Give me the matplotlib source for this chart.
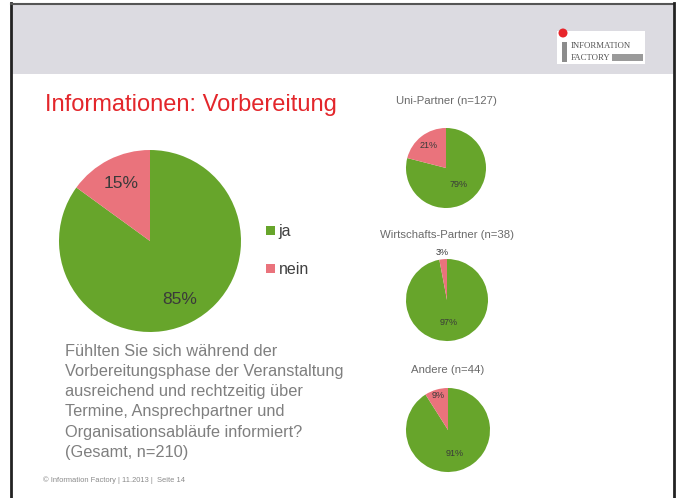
import numpy as np
import matplotlib
matplotlib.use("Agg")
import matplotlib.pyplot as plt
import matplotlib.patches as patches

plt.rcParams['font.family'] = ['Liberation Sans', 'DejaVu Sans']

W, H = 681, 498

# data
answers = ["ja", "nein"]
total_pct = [85, 15]
groups = ["Uni-Partner (n=127)", "Wirtschafts-Partner (n=38)", "Andere (n=44)"]
group_pct = [[79, 21], [97, 3], [91, 9]]

title = "Informationen: Vorbereitung"
question = ("Fühlten Sie sich während der\n"
            "Vorbereitungsphase der Veranstaltung\n"
            "ausreichend und rechtzeitig über\n"
            "Termine, Ansprechpartner und\n"
            "Organisationsabläufe informiert?\n"
            "(Gesamt, n=210)")
footer = "© Information Factory | 11.2013 |  Seite 14"

# style
GREEN = "#67a52b"
RED = "#ea737c"
pie_colors = [GREEN, RED]

fig = plt.figure(figsize=(W / 100, H / 100), dpi=100)
fig.patch.set_facecolor("white")

# slide background / frame in pixel coords
bg = fig.add_axes([0, 0, 1, 1])
bg.set_xlim(0, W)
bg.set_ylim(H, 0)
bg.axis("off")
bg.add_patch(patches.Rectangle((12, 4), 661, 70, facecolor="#dcdbe1", edgecolor="none"))
bg.plot([11, 11], [3, H], color="#222222", lw=2)
bg.plot([11, 674], [3.5, 3.5], color="#555555", lw=1.5)
bg.plot([673.5, 673.5], [3, H], color="#222222", lw=2)

# logo
bg.add_patch(patches.Rectangle((557, 31), 88, 33, facecolor="white", edgecolor="none"))
bg.add_patch(patches.Circle((563, 33), 4.5, facecolor="#e8262b", edgecolor="none"))
bg.add_patch(patches.Rectangle((562, 42), 5, 20, facecolor="#8c8c8c", edgecolor="none"))
bg.text(571, 45.5, "INFORMATION", family="Liberation Serif", fontsize=6.3,
        color="#555555", va="center", ha="left")
bg.text(571, 57.5, "FACTORY", family="Liberation Serif", fontsize=6.3,
        color="#555555", va="center", ha="left")
bg.add_patch(patches.Rectangle((612, 54), 31, 7, facecolor="#9a9a9a", edgecolor="none"))

bg.text(45, 105, title, fontsize=17, color="#e3262b", va="center", ha="left")
bg.text(65, 344, question, fontsize=11.8, color="#7f7f7f", va="top", ha="left",
        linespacing=1.43)
bg.text(43, 480, footer, fontsize=5.4, color="#8a8a8a", va="center", ha="left")


def pie_axes(cx, cy, r):
    ax = fig.add_axes([(cx - r) / W, (H - cy - r) / H, 2 * r / W, 2 * r / H])
    ax.axis("off")
    return ax


def draw_pie(ax, values, dists, fs):
    wedges, _ = ax.pie(values, colors=pie_colors, startangle=90, counterclock=False,
                       radius=1, wedgeprops=dict(linewidth=0))
    # pie() resets the limits, so fix them afterwards
    ax.set_xlim(-1, 1)
    ax.set_ylim(-1, 1)
    for w, v, d in zip(wedges, values, dists):
        ang = np.deg2rad((w.theta1 + w.theta2) / 2)
        ax.text(d * np.cos(ang), d * np.sin(ang), f"{v}%", ha="center", va="center",
                fontsize=fs, color="#3a3a3a", clip_on=False)
    return wedges


# main pie
ax = pie_axes(150, 241, 91)
wedges = draw_pie(ax, total_pct, [0.72, 0.71], 12.5)
leg = fig.legend(wedges, answers, loc="upper left", bbox_to_anchor=(258 / W, 1 - 216 / H),
                 frameon=False, fontsize=11.5, handlelength=0.55, handleheight=0.55,
                 handletextpad=0.25, labelspacing=1.45, borderpad=0)
for t in leg.get_texts():
    t.set_color("#404040")

# group pies
centers = [(446, 168, 40), (447, 300, 41), (448, 430, 42)]
title_y = [101, 235, 370]
dist_list = [[0.52, 0.7], [0.55, 1.17], [0.58, 0.85]]
for g, vals, (cx, cy, r), ty, dd in zip(groups, group_pct, centers, title_y, dist_list):
    a = pie_axes(cx, cy, r)
    draw_pie(a, vals, dd, 6.5)
    bg.text(cx, ty, g, fontsize=8.2, color="#6a6a6a", ha="center", va="center")

fig.savefig("out.png", dpi=100)
